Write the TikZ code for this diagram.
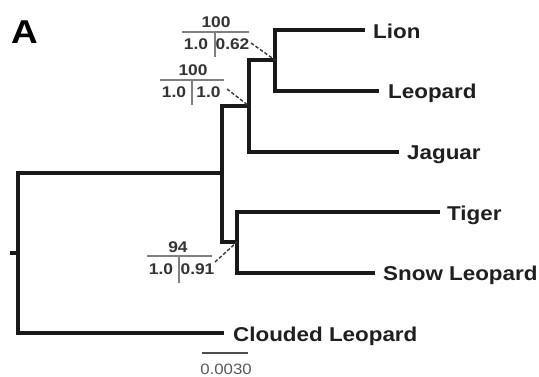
\documentclass[tikz,border=0pt]{standalone}
\usepackage{fontspec}
\setmainfont{Liberation Sans}[FakeStretch=1.12]
\begin{document}
\begin{tikzpicture}[x=1pt,y=-1pt,
  branch/.style={line width=4pt, black!90, line join=miter, line cap=rect},
  taxon/.style={anchor=base west, inner sep=0pt, font=\fontsize{20}{24}\selectfont\bfseries, text=black!88},
  supp/.style={anchor=base, inner sep=0pt, font=\fontsize{15.5}{18}\selectfont\bfseries, text=black!80},
  rule/.style={line width=1.4pt, black!50},
  lead/.style={line width=1.4pt, black!78, dash pattern=on 3.5pt off 2pt},
  scalebar/.style={line width=2pt, black!70}]
\useasboundingbox (0,0) rectangle (539,376);
\fill[white] (0,0) rectangle (539,376);

% panel letter
\node[anchor=base west, inner sep=0pt, font=\fontsize{33}{36}\selectfont\bfseries] (panel) at (11,43) {A};

% tree coordinates
\coordinate (rootstub) at (12,253);
\coordinate (root) at (18,253);
\coordinate (rootT) at (18,173);
\coordinate (rootB) at (18,333);
\coordinate (bigT) at (222,106);
\coordinate (bigM) at (222,173);
\coordinate (bigB) at (222,242);
\coordinate (panT) at (249,60);
\coordinate (panM) at (249,106);
\coordinate (panB) at (249,152);
\coordinate (llT) at (275,30);
\coordinate (llM) at (275,60);
\coordinate (llB) at (275,91);
\coordinate (tsT) at (237,212);
\coordinate (tsM) at (237,242);
\coordinate (tsB) at (237,273);
\coordinate (tipLion) at (363,30);
\coordinate (tipLeopard) at (377,91);
\coordinate (tipJaguar) at (397,152);
\coordinate (tipTiger) at (438,212);
\coordinate (tipSnow) at (373,273);
\coordinate (tipClouded) at (222,333);

% branches
\draw[branch] (rootstub) -- (root);
\draw[branch] (bigM) -- (rootT) -- (rootB) -- (tipClouded);
\draw[branch] (panM) -- (bigT) -- (bigB) -- (tsM);
\draw[branch] (llM) -- (panT) -- (panB) -- (tipJaguar);
\draw[branch] (tipLion) -- (llT) -- (llB) -- (tipLeopard);
\draw[branch] (tipTiger) -- (tsT) -- (tsB) -- (tipSnow);

% taxon labels
\node[taxon] (lion) at ([xshift=10pt,yshift=-8pt]tipLion) {Lion};
\node[taxon] (leopard) at ([xshift=11pt,yshift=-7.5pt]tipLeopard) {Leopard};
\node[taxon] (jaguar) at ([xshift=10pt,yshift=-7.5pt]tipJaguar) {Jaguar};
\node[taxon] (tiger) at ([xshift=9pt,yshift=-8.5pt]tipTiger) {Tiger};
\node[taxon] (snow) at ([xshift=10pt,yshift=-7.5pt]tipSnow) {Snow Leopard};
\node[taxon] (clouded) at ([xshift=11pt,yshift=-8pt]tipClouded) {Clouded Leopard};

% support 1 (Lion + Leopard)
\coordinate (r1a) at (182,32); \coordinate (r1b) at (249,32);
\coordinate (d1a) at (215,32); \coordinate (d1b) at (215,57);
\draw[rule] (r1a) -- (r1b);
\draw[rule] (d1a) -- (d1b);
\node[supp] (s1top) at (216,27.5) {100};
\node[supp] (s1l) at (196,49) {1.0};
\node[supp] (s1r) at (232.5,49) {0.62};
\coordinate (l1) at (251,43);
\draw[lead] (l1) -- (llM);

% support 2 (Lion + Leopard + Jaguar)
\coordinate (r2a) at (160,80); \coordinate (r2b) at (224,80);
\coordinate (d2a) at (192,80); \coordinate (d2b) at (192,105);
\draw[rule] (r2a) -- (r2b);
\draw[rule] (d2a) -- (d2b);
\node[supp] (s2top) at (193,75) {100};
\node[supp] (s2l) at (174,97) {1.0};
\node[supp] (s2r) at (208.5,97) {1.0};
\coordinate (l2) at (227,89);
\draw[lead] (l2) -- (panM);

% support 3 (Tiger + Snow Leopard)
\coordinate (r3a) at (147,256); \coordinate (r3b) at (212,256);
\coordinate (d3a) at (179,256); \coordinate (d3b) at (179,283);
\draw[rule] (r3a) -- (r3b);
\draw[rule] (d3a) -- (d3b);
\node[supp] (s3top) at (178,252.5) {94};
\node[supp] (s3l) at (161,274) {1.0};
\node[supp] (s3r) at (197.5,274) {0.91};
\coordinate (l3) at (215,262);
\draw[lead] (l3) -- (tsM);

% scale bar
\coordinate (sbA) at (202,353); \coordinate (sbB) at (248,353);
\draw[scalebar] (sbA) -- (sbB);
\node[anchor=base, inner sep=0pt, font=\fontsize{15}{18}\selectfont, text=black!65] (sblabel) at (226,374) {0.0030};
\end{tikzpicture}
\end{document}
